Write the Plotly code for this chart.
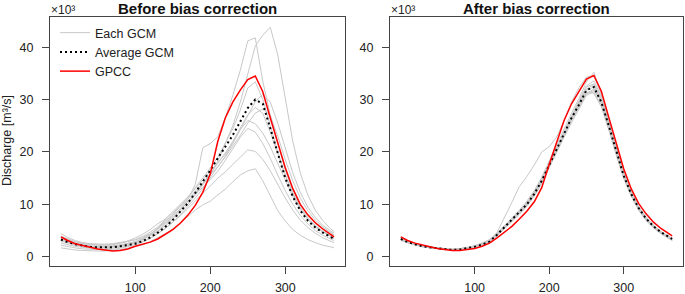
import plotly.graph_objects as go

W, H = 685, 294

DAYS = [1, 10, 20, 30, 40, 50, 60, 70, 80, 90, 100, 110, 120, 130, 140, 150, 160, 170, 180,
        190, 200, 210, 220, 230, 240, 250, 260, 270, 280, 290, 300, 310, 320, 330, 340, 350, 360, 365]

# ---- Before bias correction (x10^3 m3/s) ----
before_gcm_1 = [4.4, 3.7, 3.1, 2.7, 2.5, 2.4, 2.4, 2.5, 2.7, 2.9, 3.2, 3.7, 4.4, 5.3, 6.4, 7.6, 9.2, 10.9, 13.8,
                20.8, 21.6, 22.9, 26.5, 30.8, 35.6, 41.2, 41.8, 33.5, 27.0, 21.5, 16.5, 12.8, 10.0, 8.0, 6.5, 5.4, 4.5, 4.1]
before_gcm_2 = [3.6, 3.0, 2.6, 2.3, 2.1, 2.0, 2.0, 2.1, 2.3, 2.5, 2.8, 3.3, 4.0, 4.8, 5.9, 7.1, 8.5, 10.0, 11.8,
                13.6, 15.6, 18.2, 21.5, 25.0, 29.5, 34.8, 40.2, 42.3, 43.8, 38.5, 30.0, 22.0, 16.0, 11.8, 8.9, 6.9, 5.4, 4.8]
before_gcm_3 = [3.0, 2.6, 2.2, 2.0, 1.8, 1.7, 1.7, 1.8, 2.0, 2.3, 2.7, 3.3, 4.1, 5.0, 6.2, 7.4, 8.9, 10.4, 12.1,
                13.9, 15.8, 17.7, 19.8, 22.0, 24.6, 27.1, 28.5, 27.4, 23.8, 19.6, 15.6, 12.2, 9.5, 7.5, 6.0, 4.9, 4.0, 3.6]
before_gcm_4 = [3.9, 3.3, 2.8, 2.5, 2.3, 2.2, 2.2, 2.3, 2.6, 3.0, 3.6, 4.3, 5.2, 6.3, 7.2, 8.6, 10.0, 11.4, 13.0,
                14.6, 16.4, 17.8, 19.6, 21.8, 24.3, 26.0, 25.4, 23.6, 21.0, 17.8, 14.5, 11.5, 9.0, 7.1, 5.7, 4.7, 3.9, 3.5]
before_gcm_5 = [3.2, 2.8, 2.4, 2.1, 1.9, 1.8, 1.8, 1.9, 2.1, 2.4, 2.8, 3.4, 4.2, 5.5, 6.8, 7.9, 9.1, 10.5, 12.0,
                13.2, 14.8, 16.3, 18.4, 20.5, 22.8, 24.5, 23.8, 21.6, 18.8, 15.6, 12.6, 10.0, 7.9, 6.3, 5.0, 4.1, 3.4, 3.1]
before_gcm_6 = [2.2, 1.9, 1.7, 1.5, 1.4, 1.3, 1.3, 1.4, 1.6, 1.9, 2.3, 2.8, 3.5, 4.4, 5.4, 6.6, 7.8, 9.2, 10.6,
                12.0, 13.5, 15.0, 16.2, 17.6, 19.0, 20.4, 20.1, 18.6, 16.4, 13.8, 11.2, 8.9, 7.0, 5.6, 4.5, 3.6, 3.0, 2.7]
before_gcm_7 = [1.7, 1.5, 1.3, 1.2, 1.1, 1.1, 1.1, 1.2, 1.4, 1.6, 1.9, 2.3, 2.9, 3.6, 4.4, 5.3, 6.4, 7.7, 8.9,
                9.9, 10.6, 11.8, 12.9, 14.3, 15.6, 16.4, 16.8, 14.5, 11.5, 8.8, 6.8, 5.2, 4.1, 3.3, 2.7, 2.2, 1.9, 1.7]
before_gcm_8 = [3.4, 2.9, 2.5, 2.2, 2.0, 1.9, 1.9, 2.0, 2.2, 2.5, 2.9, 3.5, 4.3, 5.4, 6.6, 8.0, 9.6, 11.3, 13.2,
                15.0, 16.9, 19.0, 21.6, 24.4, 28.0, 32.2, 33.4, 30.0, 25.0, 20.0, 15.6, 12.0, 9.3, 7.3, 5.9, 4.8, 4.0, 3.6]
before_gcm_9 = [2.6, 2.3, 2.0, 1.8, 1.6, 1.5, 1.5, 1.6, 1.8, 2.1, 2.5, 3.0, 3.6, 4.4, 5.4, 6.6, 8.0, 9.5, 11.2,
                13.0, 15.0, 17.0, 19.2, 21.6, 24.2, 27.0, 29.6, 31.0, 29.5, 25.5, 20.5, 16.0, 12.3, 9.5, 7.5, 6.0, 5.0, 4.5]
before_gcm_10 = [3.9, 3.4, 2.9, 2.6, 2.4, 2.3, 2.3, 2.4, 2.6, 2.9, 3.3, 3.9, 4.7, 5.7, 7.0, 8.3, 9.6, 11.0, 12.5,
                 14.0, 15.6, 17.2, 19.0, 21.0, 23.2, 25.5, 27.4, 28.2, 27.0, 23.0, 18.5, 14.5, 11.2, 8.8, 7.0, 5.7, 4.7, 4.2]
before_avg = [3.3, 2.8, 2.4, 2.1, 1.9, 1.8, 1.8, 1.8, 2.0, 2.2, 2.5, 3.0, 3.7, 4.6, 5.7, 7.0, 8.5, 10.2, 12.2,
              14.3, 16.5, 18.8, 21.0, 23.2, 25.8, 28.4, 30.0, 29.2, 24.5, 19.5, 15.0, 11.5, 8.8, 6.9, 5.6, 4.6, 3.8, 3.4]
before_gpcc = [3.8, 3.1, 2.5, 2.1, 1.8, 1.5, 1.3, 1.1, 1.2, 1.5, 2.0, 2.4, 2.8, 3.4, 4.3, 5.2, 6.4, 7.9, 9.8,
               12.3, 15.8, 22.0, 26.5, 29.5, 31.8, 33.8, 34.5, 31.5, 26.5, 21.5, 17.0, 13.0, 10.0, 8.0, 6.5, 5.3, 4.3, 3.8]

# ---- After bias correction ----
after_gcm_1 = [3.3, 2.8, 2.4, 2.0, 1.8, 1.6, 1.4, 1.4, 1.5, 1.8, 2.1, 2.6, 3.3, 4.6, 7.4, 10.4, 13.4, 15.3, 17.5,
               20.0, 21.0, 22.8, 26.0, 29.5, 32.3, 34.3, 34.6, 31.0, 26.0, 21.0, 16.2, 12.5, 9.6, 7.5, 6.0, 4.8, 3.9, 3.5]
after_gcm_2 = [3.5, 2.9, 2.5, 2.1, 1.8, 1.6, 1.5, 1.4, 1.5, 1.7, 2.0, 2.5, 3.1, 4.5, 5.9, 7.4, 8.9, 10.6, 12.6,
               15.2, 18.3, 21.3, 24.4, 27.4, 30.2, 33.4, 35.2, 31.0, 25.6, 20.4, 15.7, 12.1, 9.4, 7.3, 5.8, 4.6, 3.7, 3.3]
after_gcm_3 = [3.2, 2.7, 2.3, 1.9, 1.7, 1.5, 1.4, 1.4, 1.5, 1.7, 2.0, 2.4, 3.0, 4.0, 5.4, 6.8, 8.2, 9.7, 11.6,
               14.0, 17.0, 20.0, 22.8, 25.6, 28.2, 30.8, 31.5, 29.0, 24.4, 19.4, 15.0, 11.6, 9.0, 7.0, 5.6, 4.5, 3.6, 3.2]
after_gcm_4 = [3.6, 3.0, 2.5, 2.1, 1.9, 1.7, 1.5, 1.4, 1.5, 1.7, 2.1, 2.6, 3.2, 4.4, 5.8, 7.2, 8.6, 10.3, 12.3,
               14.8, 17.8, 20.8, 23.9, 27.0, 29.8, 32.6, 33.6, 30.5, 25.6, 20.6, 16.0, 12.4, 9.6, 7.5, 6.0, 4.8, 3.9, 3.5]
after_gcm_5 = [3.3, 2.8, 2.4, 2.0, 1.8, 1.6, 1.4, 1.3, 1.4, 1.6, 1.9, 2.3, 2.8, 4.0, 5.3, 6.7, 8.1, 9.6, 11.6,
               14.0, 17.1, 20.2, 23.2, 26.0, 28.5, 31.0, 31.8, 29.8, 25.2, 20.2, 15.6, 12.0, 9.2, 7.2, 5.7, 4.6, 3.7, 3.3]
after_gcm_6 = [3.4, 2.9, 2.4, 2.0, 1.8, 1.6, 1.5, 1.4, 1.5, 1.7, 2.0, 2.4, 3.0, 4.4, 5.8, 7.0, 8.5, 10.1, 12.2,
               14.7, 17.6, 20.6, 23.6, 26.6, 29.4, 32.0, 32.9, 29.4, 24.6, 19.6, 15.2, 11.8, 9.1, 7.1, 5.6, 4.5, 3.6, 3.2]
after_gcm_7 = [3.1, 2.7, 2.3, 1.9, 1.7, 1.5, 1.4, 1.3, 1.4, 1.6, 1.9, 2.3, 2.9, 4.1, 5.5, 6.9, 8.3, 9.9, 11.9,
               14.3, 17.4, 20.4, 23.3, 26.3, 28.8, 31.2, 32.0, 29.6, 24.8, 19.8, 15.3, 11.8, 9.1, 7.1, 5.6, 4.5, 3.6, 3.2]
after_gcm_8 = [3.7, 3.0, 2.5, 2.1, 1.9, 1.7, 1.5, 1.4, 1.5, 1.7, 2.0, 2.4, 3.0, 4.3, 5.7, 7.1, 8.5, 10.1, 12.1,
               14.6, 17.6, 20.6, 23.6, 26.5, 29.2, 31.8, 32.4, 29.8, 25.4, 20.4, 15.8, 12.2, 9.5, 7.4, 5.9, 4.7, 3.8, 3.4]
after_gcm_9 = [3.2, 2.7, 2.3, 2.0, 1.8, 1.6, 1.4, 1.4, 1.5, 1.7, 1.9, 2.3, 2.8, 4.1, 5.5, 7.0, 8.4, 9.9, 11.8,
               14.2, 17.2, 20.2, 23.4, 26.5, 29.0, 31.4, 31.2, 28.6, 24.2, 19.4, 15.0, 11.6, 8.9, 6.9, 5.5, 4.4, 3.5, 3.1]
after_gcm_10 = [3.5, 2.9, 2.4, 2.0, 1.8, 1.6, 1.5, 1.4, 1.5, 1.7, 2.0, 2.5, 3.1, 4.3, 5.7, 7.1, 8.6, 10.2, 12.2,
                14.7, 17.7, 20.7, 23.7, 26.7, 29.6, 32.4, 33.0, 30.2, 25.4, 20.2, 15.6, 12.1, 9.3, 7.3, 5.8, 4.6, 3.7, 3.3]
after_avg = [3.4, 2.8, 2.4, 2.0, 1.8, 1.6, 1.4, 1.3, 1.4, 1.6, 1.9, 2.3, 2.9, 4.2, 5.6, 7.0, 8.4, 10.0, 12.0,
             14.5, 17.5, 20.5, 23.5, 26.5, 29.0, 31.8, 32.4, 29.5, 25.0, 20.0, 15.5, 12.0, 9.3, 7.3, 5.8, 4.7, 3.8, 3.4]
after_gpcc = [3.8, 3.1, 2.6, 2.2, 1.9, 1.6, 1.4, 1.2, 1.2, 1.4, 1.6, 2.0, 2.6, 3.6, 4.7, 5.8, 7.2, 8.7, 10.5,
              13.2, 17.6, 21.9, 26.0, 29.2, 31.6, 33.9, 34.6, 31.6, 26.6, 21.5, 16.8, 13.0, 10.2, 8.2, 6.6, 5.4, 4.4, 4.0]

before_gcms = [before_gcm_1, before_gcm_2, before_gcm_3, before_gcm_4, before_gcm_5,
               before_gcm_6, before_gcm_7, before_gcm_8, before_gcm_9, before_gcm_10]
after_gcms = [after_gcm_1, after_gcm_2, after_gcm_3, after_gcm_4, after_gcm_5,
              after_gcm_6, after_gcm_7, after_gcm_8, after_gcm_9, after_gcm_10]

TITLES = ["Before bias correction", "After bias correction"]
LEGEND_LABELS = ["Each GCM", "Average GCM", "GPCC"]
Y_TICKS = [0, 10, 20, 30, 40]
X_TICKS = [100, 200, 300]

GRAY = "#c8c8c8"
RED = "#ff0000"
TXT = "#222222"
AX = "#444444"
FONT = "Liberation Sans, Arial, sans-serif"

fig = go.Figure()

panels = [("x", "y", before_gcms, before_avg, before_gpcc, True),
          ("x2", "y2", after_gcms, after_avg, after_gpcc, False)]
for xa, ya, gcms, avg, gpcc, leg in panels:
    for i, g in enumerate(gcms):
        fig.add_trace(go.Scatter(x=DAYS, y=g, mode="lines", xaxis=xa, yaxis=ya,
                                 line=dict(color=GRAY, width=1),
                                 name=LEGEND_LABELS[0], legendrank=1,
                                 showlegend=(leg and i == 0), hoverinfo="skip"))
    fig.add_trace(go.Scatter(x=DAYS, y=avg, mode="lines", xaxis=xa, yaxis=ya,
                             line=dict(color="#000000", width=2, dash="2px,3px"),
                             name=LEGEND_LABELS[1], legendrank=2, showlegend=leg))
    fig.add_trace(go.Scatter(x=DAYS, y=gpcc, mode="lines", xaxis=xa, yaxis=ya,
                             line=dict(color=RED, width=1.5),
                             name=LEGEND_LABELS[2], legendrank=3, showlegend=leg))

# panel pixel boxes
L = (50, 345)
R = (390, 683)
TOP, BOT = 17, 266

xcommon = dict(range=[-13.56, 379.56], tickvals=X_TICKS, ticks="outside", ticklen=7,
               tickcolor=AX, showline=True, mirror=True, linecolor=AX, linewidth=1,
               showgrid=False, zeroline=False, tickfont=dict(size=12.5, color=TXT, family=FONT),
               ticklabelstandoff=3, automargin=False)
ycommon = dict(range=[-1.76, 45.76], tickvals=Y_TICKS, ticks="outside", ticklen=7,
               tickcolor=AX, showline=True, mirror=True, linecolor=AX, linewidth=1,
               showgrid=False, zeroline=False, tickfont=dict(size=12.5, color=TXT, family=FONT),
               ticklabelstandoff=6, automargin=False)
ydom = [(H - BOT) / H, (H - TOP) / H]

fig.update_layout(
    width=W, height=H,
    margin=dict(l=0, r=0, t=0, b=0, autoexpand=False),
    paper_bgcolor="white", plot_bgcolor="white",
    font=dict(family=FONT, color=TXT, size=12.5),
    xaxis=dict(domain=[L[0] / W, L[1] / W], anchor="y", **xcommon),
    yaxis=dict(domain=ydom, anchor="x", **ycommon),
    xaxis2=dict(domain=[R[0] / W, R[1] / W], anchor="y2", **xcommon),
    yaxis2=dict(domain=ydom, anchor="x2", **ycommon),
    showlegend=True,
    legend=dict(x=55 / W, xanchor="left", y=1 - 18 / H, yanchor="top",
                bgcolor="rgba(0,0,0,0)", font=dict(size=12.5, color=TXT, family=FONT),
                tracegroupgap=0, itemwidth=30),
)

annotations = []
for (x0, x1), t in zip([L, R], TITLES):
    annotations.append(dict(text="<b>" + t + "</b>", x=(x0 + x1) / 2 / W, y=1 - 8.5 / H,
                            xref="paper", yref="paper", xanchor="center", yanchor="middle",
                            showarrow=False, font=dict(size=15, color="#111111", family=FONT)))
    annotations.append(dict(text="×10³", x=x0 / W - 0.001, y=1 - 10 / H, xref="paper", yref="paper",
                            xanchor="left", yanchor="middle", showarrow=False,
                            font=dict(size=12, color=TXT, family=FONT)))
annotations.append(dict(text="Discharge [m³/s]", x=7 / W, y=1 - 141 / H, xref="paper", yref="paper",
                        xanchor="center", yanchor="middle", textangle=-90, showarrow=False,
                        font=dict(size=12.5, color=TXT, family=FONT)))
fig.update_layout(annotations=annotations)

fig.write_html("out.html", config={"displayModeBar": False},
               post_script="document.body.style.margin='0px';document.body.style.overflow='hidden';")
